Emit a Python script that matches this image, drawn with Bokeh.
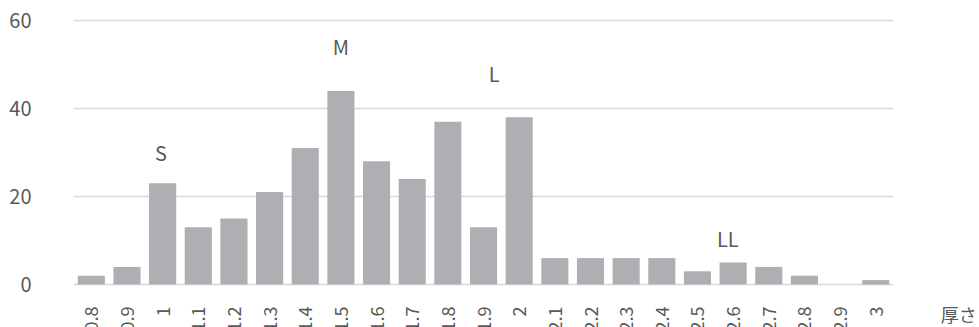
import math
from bokeh.plotting import figure
from bokeh.models import Range1d, FixedTicker, ColumnDataSource
from bokeh.core.properties import value
from bokeh.embed import file_html
from bokeh.resources import INLINE

categories = ["0.8", "0.9", "1", "1.1", "1.2", "1.3", "1.4", "1.5", "1.6", "1.7", "1.8", "1.9",
              "2", "2.1", "2.2", "2.3", "2.4", "2.5", "2.6", "2.7", "2.8", "2.9", "3"]
counts = [2, 4, 23, 13, 15, 21, 31, 44, 28, 24, 37, 13, 38, 6, 6, 6, 6, 3, 5, 4, 2, 0, 1]
y_ticks = [0, 20, 40, 60]

size_labels = ["S", "M", "L", "LL"]
size_label_x = [1.95, 7.0, 11.3, 17.85]
size_label_y = [30, 54, 48, 10.5]

axis_title = "厚さ"

FONT = "Noto Sans CJK JP"
TEXT_COLOR = "#595959"
BAR_COLOR = "#AEAFB3"
GRID_COLOR = "#D9D9D9"

n = len(categories)
xpos = list(range(n))

p = figure(width=979, height=327, output_backend="svg", toolbar_location=None,
           x_range=Range1d(-0.5, 24.91),
           y_range=Range1d(-9.77, 60.45),
           min_border_left=73, min_border_right=0, min_border_top=18, min_border_bottom=0)

p.outline_line_color = None
p.background_fill_color = "white"
p.border_fill_color = "white"

src = ColumnDataSource(dict(x=xpos, cat=categories, cnt=counts, zero=[0] * n))
p.vbar(x="x", top="cnt", bottom=0, width=0.76, source=src, color=BAR_COLOR, line_color=None)

# x tick labels (rotated)
p.text(x="x", y="zero", text="cat", source=src, angle=math.pi / 2,
       text_align="right", text_baseline="middle", y_offset=22,
       text_font=value(FONT), text_font_size="18px", text_color=TEXT_COLOR)

p.text(x=size_label_x, y=size_label_y, text=size_labels,
       text_align="center", text_baseline="middle",
       text_font=value(FONT), text_font_size="20px", text_color=TEXT_COLOR)

# axis title to the right of the category axis
p.text(x=[23.82], y=[-6.8], text=[axis_title], text_align="left", text_baseline="middle",
       text_font=value(FONT), text_font_size="18px", text_color=TEXT_COLOR)

p.xaxis.visible = False
p.xgrid.visible = False

p.yaxis.ticker = FixedTicker(ticks=y_ticks)
p.yaxis.axis_line_color = None
p.yaxis.major_tick_line_color = None
p.yaxis.minor_tick_line_color = None
p.yaxis.major_label_standoff = 36
p.yaxis.major_label_text_font = FONT
p.yaxis.major_label_text_font_size = "20px"
p.yaxis.major_label_text_color = TEXT_COLOR

p.ygrid.ticker = FixedTicker(ticks=y_ticks)
p.ygrid.grid_line_color = GRID_COLOR
p.ygrid.grid_line_width = 1.5
p.ygrid.cross_bounds = (-0.5, n - 0.5)

open("out.html", "w").write(file_html(p, INLINE))
